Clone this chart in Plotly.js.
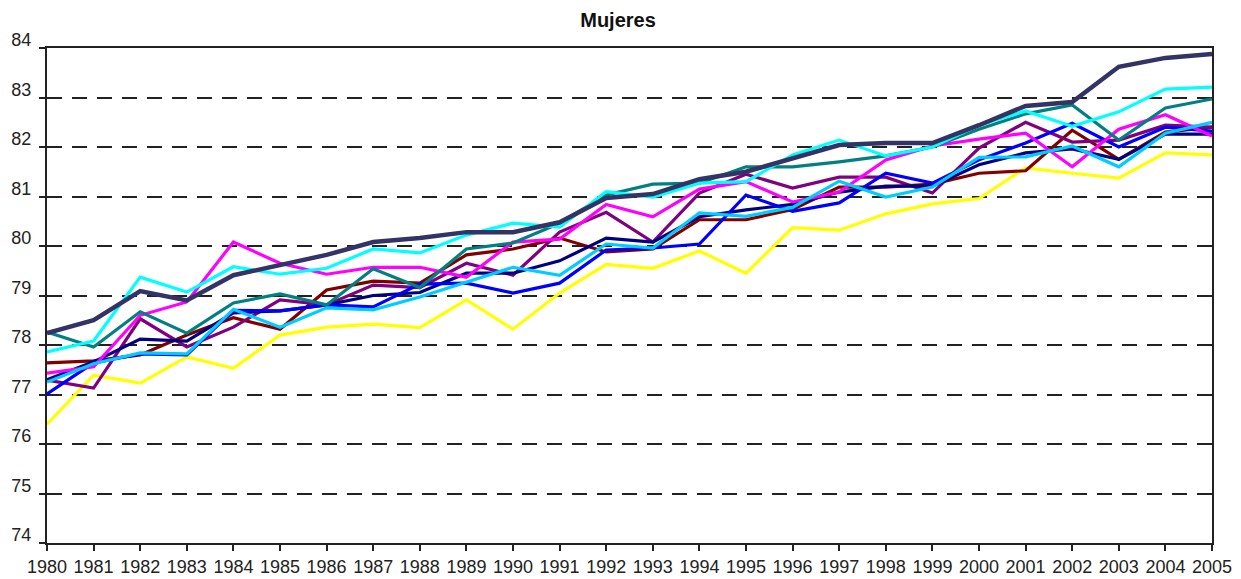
<!DOCTYPE html>
<html>
<head>
<meta charset="utf-8">
<script src="https://cdn.plot.ly/plotly-3.0.1.min.js"></script>
<style>
  html, body { margin: 0; padding: 0; background: #fff; }
  #chart { width: 1241px; height: 579px; }
</style>
</head>
<body>
<div id="chart"></div>
<script>
const years = [1980,1981,1982,1983,1984,1985,1986,1987,1988,1989,1990,1991,1992,1993,1994,1995,1996,1997,1998,1999,2000,2001,2002,2003,2004,2005];

const serieAmarilla = [76.40,77.39,77.23,77.76,77.53,78.20,78.36,78.42,78.35,78.91,78.32,79.05,79.63,79.55,79.90,79.45,80.37,80.32,80.65,80.85,80.96,81.58,81.47,81.37,81.88,81.84];
const serieGranate  = [77.64,77.68,77.80,78.20,78.55,78.32,79.11,79.29,79.25,79.82,79.94,80.16,79.88,79.94,80.53,80.53,80.74,81.19,81.19,81.25,81.47,81.52,82.34,81.75,82.30,82.40];
const serieMorada   = [77.29,77.13,78.53,77.96,78.36,78.91,78.81,79.21,79.16,79.65,79.41,80.28,80.68,80.08,81.07,81.45,81.17,81.39,81.39,81.07,81.98,82.50,82.10,82.14,82.44,82.40];
const serieMarino   = [77.30,77.66,78.12,78.08,78.65,78.69,78.81,79.00,79.06,79.45,79.45,79.70,80.16,80.08,80.59,80.73,80.84,81.09,81.21,81.21,81.64,81.88,81.96,81.75,82.26,82.26];
const serieAzul     = [77.01,77.64,77.82,77.80,78.70,78.69,78.81,78.77,79.23,79.25,79.05,79.25,79.92,79.96,80.04,81.03,80.70,80.87,81.47,81.27,81.74,82.08,82.48,82.00,82.40,82.32];
const serieMagenta  = [77.43,77.56,78.60,78.87,80.08,79.65,79.43,79.57,79.57,79.37,80.08,80.14,80.84,80.59,81.15,81.30,80.89,81.09,81.74,82.02,82.16,82.28,81.60,82.36,82.65,82.22];
const serieVerde    = [78.26,77.96,78.67,78.24,78.85,79.03,78.81,79.54,79.16,79.94,80.06,80.46,81.03,81.25,81.27,81.60,81.60,81.70,81.82,82.00,82.36,82.67,82.85,82.14,82.79,82.97];
const serieCeleste  = [77.25,77.62,77.84,77.82,78.72,78.36,78.75,78.71,78.97,79.27,79.57,79.41,80.04,79.96,80.67,80.60,80.78,81.31,80.99,81.19,81.79,81.80,82.02,81.60,82.28,82.50];
const serieCian     = [77.86,78.08,79.37,79.07,79.58,79.43,79.55,79.94,79.86,80.22,80.46,80.38,81.10,80.99,81.27,81.30,81.84,82.14,81.82,82.00,82.44,82.73,82.42,82.71,83.17,83.21];
const serieOscura   = [78.24,78.50,79.09,78.90,79.41,79.62,79.82,80.08,80.16,80.28,80.28,80.48,80.97,81.05,81.35,81.50,81.78,82.04,82.08,82.08,82.44,82.83,82.91,83.62,83.80,83.88];

const yTicks = [74,75,76,77,78,79,80,81,82,83,84];

const series = [
  {name: 'Serie amarilla', y: serieAmarilla, color: '#FFFF00', width: 3.2},
  {name: 'Serie granate',  y: serieGranate,  color: '#800000', width: 3.2},
  {name: 'Serie morada',   y: serieMorada,   color: '#800080', width: 3.2},
  {name: 'Serie marino',   y: serieMarino,   color: '#000080', width: 3.2},
  {name: 'Serie azul',     y: serieAzul,     color: '#0000FF', width: 3.2},
  {name: 'Serie magenta',  y: serieMagenta,  color: '#FF00FF', width: 3.2},
  {name: 'Serie verde',    y: serieVerde,    color: '#008080', width: 3.2},
  {name: 'Serie celeste',  y: serieCeleste,  color: '#00CCFF', width: 3.2},
  {name: 'Serie cian',     y: serieCian,     color: '#00FFFF', width: 3.2},
  {name: 'Serie oscura',   y: serieOscura,   color: '#333366', width: 4.5}
];

const traces = series.map(s => ({
  type: 'scatter',
  mode: 'lines',
  name: s.name,
  x: years,
  y: s.y,
  line: {color: s.color, width: s.width},
  hoverinfo: 'x+y+name'
}));

const layout = {
  width: 1241,
  height: 579,
  margin: {l: 47, r: 29, t: 48, b: 36, pad: 0},
  paper_bgcolor: '#ffffff',
  plot_bgcolor: '#ffffff',
  showlegend: false,
  font: {family: '"Liberation Sans", Arial, sans-serif', size: 18, color: '#222222'},
  title: {
    text: '<b>Mujeres</b>',
    font: {family: '"Liberation Sans", Arial, sans-serif', size: 20, color: '#111111'},
    x: 0.498, xref: 'container', xanchor: 'center',
    y: 0.965, yref: 'container', yanchor: 'middle'
  },
  xaxis: {
    range: [1980, 2005],
    tickmode: 'array',
    tickvals: years,
    ticktext: years.map(String),
    showgrid: false,
    zeroline: false,
    showline: true,
    linecolor: '#222222',
    linewidth: 2,
    mirror: true,
    ticks: 'outside',
    ticklen: 6,
    tickwidth: 2,
    tickcolor: '#222222',
    tickfont: {size: 18, color: '#222222'},
    ticklabelstandoff: 0
  },
  yaxis: {
    range: [74, 84],
    tickmode: 'array',
    tickvals: yTicks,
    ticktext: yTicks.map(String),
    showgrid: true,
    gridcolor: '#222222',
    gridwidth: 2,
    griddash: '15px,10px',
    zeroline: false,
    showline: true,
    linecolor: '#222222',
    linewidth: 2,
    mirror: true,
    ticks: 'outside',
    ticklen: 6,
    tickwidth: 2,
    tickcolor: '#222222',
    tickfont: {size: 18, color: '#222222'},
    ticklabelstandoff: 4,
    ticklabelshift: -8
  }
};

Plotly.newPlot('chart', traces, layout, {displayModeBar: false, staticPlot: true});
</script>
</body>
</html>
